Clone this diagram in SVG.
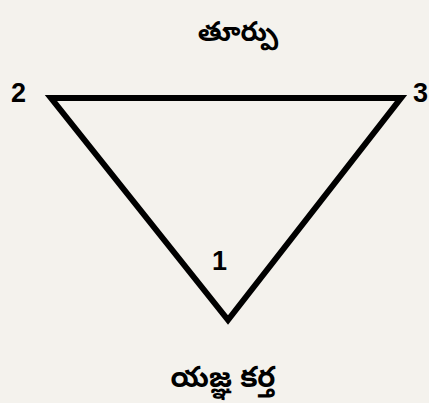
<svg xmlns="http://www.w3.org/2000/svg" width="429" height="403" viewBox="0 0 429 403">
<style>
.num{font-family:"Liberation Sans",Arial,sans-serif;font-weight:bold;font-size:27px;fill:#000}
.te{font-family:"Noto Sans Telugu","Noto Sans","Liberation Sans",sans-serif;font-weight:bold;font-size:29px;fill:#000;text-anchor:middle}
</style>
<rect width="429" height="403" fill="#f4f2ed"/>
<g id="connectors">
<polygon points="51,98 401,98 228,320" fill="none" stroke="#000" stroke-width="6" stroke-linejoin="miter"/>
</g>
<g id="title"><text class="te" x="238" y="41" style="font-size:27px">తూర్పు</text></g>
<g id="v2"><text class="num" x="11" y="102">2</text></g>
<g id="v3"><text class="num" x="413" y="102">3</text></g>
<g id="v1"><text class="num" x="212" y="270">1</text></g>
<g id="bottom"><text class="te" x="223" y="387">యజ్ఞ కర్త</text></g>
</svg>
